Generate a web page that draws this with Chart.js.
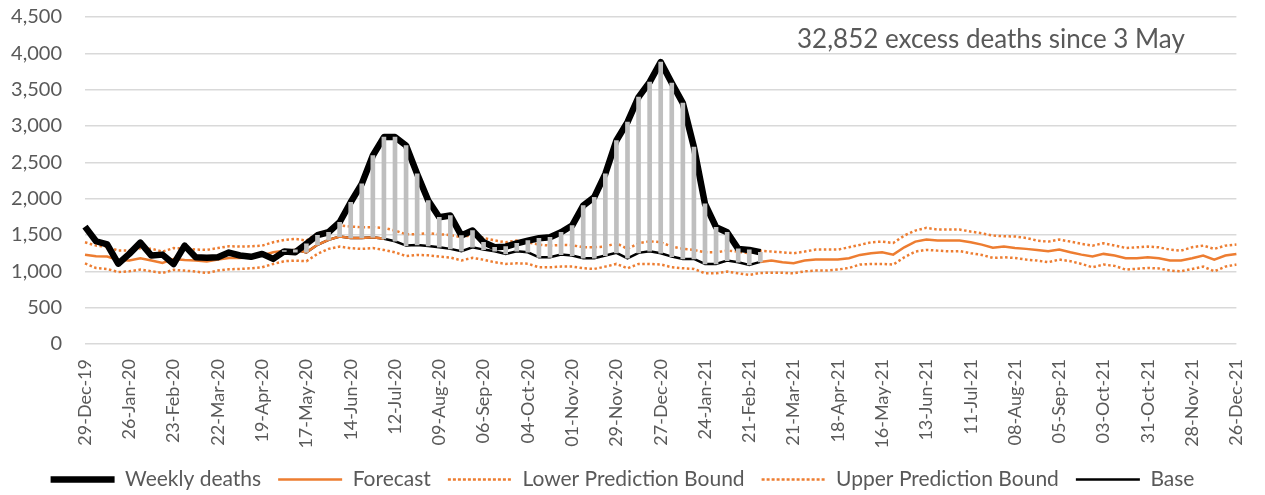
<!DOCTYPE html>
<html>
<head>
<meta charset="utf-8">
<script src="https://cdn.jsdelivr.net/npm/chart.js@4.4.1/dist/chart.umd.min.js"></script>
<style>
  html, body { margin: 0; padding: 0; background: #fff; }
  #wrap { width: 1265px; height: 495px; position: relative; }
</style>
</head>
<body>
<div id="wrap"><canvas id="myChart"></canvas></div>
<script>
// weekly categories start on this Sunday, 105 weeks
const firstWeek = '2019-12-29';
const weekCount = 105;
const excessStart = 18; // 3 May 2020

const weeklyDeaths = [1615, 1414, 1370, 1105, 1240, 1395, 1217, 1230, 1100, 1354,
  1193, 1188, 1193, 1258, 1218, 1200, 1240, 1171, 1274, 1262,
  1380, 1497, 1538, 1676, 1951, 2204, 2594, 2847, 2847, 2732,
  2342, 1974, 1744, 1768, 1492, 1561, 1400, 1331, 1340, 1386,
  1423, 1455, 1469, 1538, 1630, 1905, 2020, 2342, 2801, 3053,
  3398, 3604, 3880, 3591, 3315, 2709, 1929, 1607, 1538, 1309,
  1295, 1262];

// base from 3 May (index 18) to last weekly value (index 61)
const baseFromMay = [1285, 1295, 1262, 1365, 1433, 1478, 1460, 1460, 1469, 1447,
  1414, 1354, 1364, 1350, 1331, 1309, 1276, 1331, 1299, 1276,
  1240, 1276, 1262, 1193, 1193, 1230, 1217, 1180, 1180, 1217,
  1254, 1180, 1254, 1276, 1249, 1203, 1171, 1171, 1102, 1102,
  1148, 1125, 1088, 1130];

// forecast visible index 0..27, then again from index 61
const forecastStart = [1228, 1207, 1203, 1157, 1148, 1180, 1148, 1116, 1171, 1157,
  1148, 1134, 1162, 1185, 1185, 1193, 1217, 1262, 1285, 1295,
  1262, 1365, 1433, 1478, 1460, 1460, 1469, 1447];
const forecastEnd = [1130, 1148, 1125, 1111, 1148, 1162, 1162, 1162, 1180, 1226,
  1249, 1262, 1230, 1331, 1409, 1437, 1423, 1423, 1423, 1400,
  1368, 1325, 1341, 1322, 1309, 1295, 1276, 1299, 1262, 1230,
  1203, 1240, 1217, 1180, 1180, 1193, 1180, 1148, 1148, 1180,
  1217, 1162, 1217, 1240];

const upperBound = [1400, 1354, 1340, 1285, 1285, 1318, 1310, 1272, 1320, 1310,
  1300, 1295, 1320, 1345, 1340, 1345, 1354, 1400, 1433, 1447,
  1423, 1524, 1561, 1630, 1616, 1607, 1607, 1598, 1561, 1510,
  1510, 1525, 1510, 1500, 1470, 1500, 1460, 1425, 1400, 1423,
  1400, 1368, 1354, 1364, 1360, 1331, 1331, 1341, 1386, 1309,
  1386, 1414, 1400, 1341, 1309, 1295, 1262, 1262, 1285, 1270,
  1249, 1285, 1272, 1262, 1249, 1272, 1299, 1299, 1299, 1331,
  1364, 1400, 1409, 1390, 1492, 1561, 1598, 1575, 1575, 1575,
  1547, 1524, 1492, 1483, 1480, 1460, 1423, 1409, 1437, 1409,
  1378, 1354, 1386, 1354, 1322, 1330, 1341, 1330, 1299, 1285,
  1331, 1354, 1309, 1354, 1368];

const lowerBound = [1110, 1045, 1033, 990, 1000, 1024, 1000, 978, 1020, 1010,
  996, 978, 1010, 1029, 1033, 1042, 1056, 1102, 1139, 1148,
  1139, 1240, 1309, 1340, 1318, 1309, 1320, 1295, 1262, 1210,
  1226, 1220, 1203, 1190, 1150, 1185, 1160, 1125, 1102, 1110,
  1105, 1056, 1056, 1065, 1065, 1042, 1033, 1065, 1102, 1042,
  1102, 1102, 1095, 1056, 1042, 1033, 973, 973, 996, 973,
  951, 978, 980, 980, 973, 1000, 1010, 1010, 1024, 1047,
  1093, 1102, 1102, 1093, 1193, 1272, 1295, 1285, 1275, 1278,
  1249, 1226, 1185, 1193, 1185, 1162, 1148, 1125, 1162, 1140,
  1102, 1056, 1093, 1075, 1024, 1035, 1047, 1040, 1010, 1000,
  1033, 1065, 1000, 1065, 1093];

const yTicks = { min: 0, max: 4500, step: 500 };
const noteLabel = '32,852 excess deaths since 3 May';

const monthNames = ['Jan','Feb','Mar','Apr','May','Jun','Jul','Aug','Sep','Oct','Nov','Dec'];
const labels = [];
const d0 = new Date(firstWeek + 'T00:00:00Z');
for (let i = 0; i < weekCount; i++) {
    const d = new Date(d0.getTime() + i * 7 * 86400000);
    const dd = String(d.getUTCDate()).padStart(2, '0');
    const yy = String(d.getUTCFullYear()).slice(2);
    labels.push(dd + '-' + monthNames[d.getUTCMonth()] + '-' + yy);
}

function fill(arr, start) {
    const out = new Array(weekCount).fill(null);
    arr.forEach((v, i) => { out[start + i] = v; });
    return out;
}

const weeklyFull = fill(weeklyDeaths, 0);
const baseFull = fill(baseFromMay, excessStart);
const forecastFull = fill(forecastStart, 0);
forecastEnd.forEach((v, i) => { forecastFull[weekCount - forecastEnd.length + i] = v; });
const excessBars = labels.map((l, i) =>
    (i >= excessStart && baseFull[i] != null && weeklyFull[i] != null) ? [baseFull[i], weeklyFull[i]] : null);

const orange = '#ED7D31';
const fontFamily = 'Lato, "Open Sans", sans-serif';
const textGrey = '#595959';

const noteText = {
    id: 'noteText',
    afterDraw(chart) {
        const ctx = chart.ctx;
        ctx.save();
        ctx.font = '26px ' + fontFamily;
        ctx.fillStyle = textGrey;
        ctx.textBaseline = 'middle';
        ctx.textAlign = 'left';
        ctx.fillText(noteLabel, 797, 40);
        ctx.restore();
    }
};

const ctx = document.getElementById('myChart');
new Chart(ctx, {
    data: {
        labels: labels,
        datasets: [
            {
                type: 'bar', label: 'excess', data: excessBars,
                backgroundColor: '#BFBFBF', barThickness: 4, order: 0
            },
            {
                type: 'line', label: 'Weekly deaths', data: weeklyFull,
                borderColor: '#000', borderWidth: 6.5, pointRadius: 0, tension: 0,
                borderJoinStyle: 'round', order: 1
            },
            {
                type: 'line', label: 'Forecast', data: forecastFull,
                borderColor: orange, borderWidth: 2.5, pointRadius: 0, tension: 0, order: 2
            },
            {
                type: 'line', label: 'Lower Prediction Bound', data: lowerBound,
                borderColor: orange, borderWidth: 2.5, borderDash: [2.5, 2.5], pointRadius: 0, tension: 0, order: 4
            },
            {
                type: 'line', label: 'Upper Prediction Bound', data: upperBound,
                borderColor: orange, borderWidth: 2.5, borderDash: [2.5, 2.5], pointRadius: 0, tension: 0, order: 5
            },
            {
                type: 'line', label: 'Base', data: baseFull,
                borderColor: '#000', borderWidth: 2.5, pointRadius: 0, tension: 0, order: 3
            }
        ]
    },
    plugins: [noteText],
    options: {
        responsive: true,
        maintainAspectRatio: false,
        animation: false,
        layout: { padding: { left: 0, right: 20, top: 17, bottom: -5 } },
        scales: {
            x: {
                offset: false,
                grid: { display: false, offset: false },
                border: { display: false },
                ticks: {
                    autoSkip: false, maxRotation: 90, minRotation: 90, padding: 7,
                    color: textGrey, font: { size: 18, family: fontFamily },
                    callback: function (v, i) { return i % 4 === 0 ? this.getLabelForValue(v) : ''; }
                },
                afterFit: function (s) { s.height = 108; }
            },
            y: {
                min: yTicks.min, max: yTicks.max,
                grid: { color: '#D9D9D9', lineWidth: 1.5, drawTicks: true, tickLength: 23, tickColor: 'rgba(0,0,0,0)' },
                border: { display: false },
                ticks: {
                    stepSize: yTicks.step, padding: 0, color: textGrey,
                    font: { size: 20, family: fontFamily },
                    callback: v => v.toLocaleString('en-US')
                },
                afterFit: function (s) { s.width = 85; }
            }
        },
        plugins: {
            tooltip: { enabled: false },
            legend: {
                position: 'bottom',
                labels: {
                    boxWidth: 64, boxHeight: 0, padding: 17, color: textGrey,
                    font: { size: 21, family: fontFamily },
                    generateLabels: function (chart) {
                        return chart.data.datasets
                            .map((ds, i) => ({
                                text: ds.label, datasetIndex: i,
                                fillStyle: 'rgba(0,0,0,0)', strokeStyle: ds.borderColor,
                                lineWidth: ds.borderWidth, lineDash: ds.borderDash || [],
                                fontColor: textGrey, hidden: false
                            }))
                            .filter(it => it.text !== 'excess');
                    }
                }
            }
        }
    }
});
</script>
</body>
</html>
